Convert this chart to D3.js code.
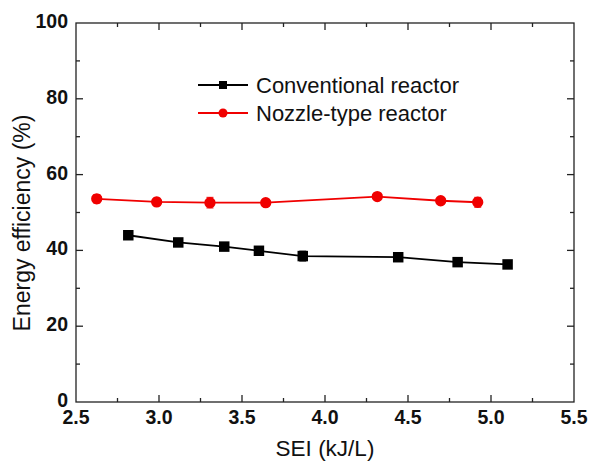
<!DOCTYPE html>
<html>
<head>
<meta charset="utf-8">
<script src="https://cdn.jsdelivr.net/npm/d3@7"></script>
<style>
  html, body { margin: 0; padding: 0; background: #fff; }
  svg { display: block; }
  text { font-family: "Liberation Sans", Arial, sans-serif; }
</style>
</head>
<body>
<svg id="chart" width="590" height="461"></svg>
<script>
// Conventional reactor
const convSEI = [2.815, 3.116, 3.393, 3.602, 3.866, 4.441, 4.799, 5.10];
const convEff = [44.0, 42.1, 41.0, 39.9, 38.5, 38.2, 36.9, 36.3];
const convErr = [0.5, 0.5, 0.5, 0.5, 1.3, 0.5, 0.8, 0.5];
// Nozzle-type reactor
const nozSEI = [2.625, 2.986, 3.307, 3.643, 4.315, 4.697, 4.920];
const nozEff = [53.6, 52.8, 52.6, 52.6, 54.2, 53.1, 52.7];
const nozErr = [1.1, 1.0, 1.4, 0.9, 0.6, 0.6, 1.3];

const xTicks = [2.5, 3.0, 3.5, 4.0, 4.5, 5.0, 5.5];
const yTicks = [0, 20, 40, 60, 80, 100];
const seriesNames = ["Conventional reactor", "Nozzle-type reactor"];

const svg = d3.select("#chart");
const L = 76, R = 574, T = 23, B = 402;

const x = d3.scaleLinear().domain([2.5, 5.5]).range([L, R]);
const y = d3.scaleLinear().domain([0, 100]).range([B, T]);

const axisColor = "#222";

// frame
svg.append("rect").attr("x", L).attr("y", T).attr("width", R - L).attr("height", B - T)
  .attr("fill", "none").attr("stroke", axisColor).attr("stroke-width", 1.3);

// major / minor ticks, inward on all four sides
const xMinor = d3.range(2.75, 5.5, 0.5);
const yMinor = d3.range(10, 100, 20);
function ticks(vals, len) {
  vals.forEach(v => {
    svg.append("line").attr("x1", x(v)).attr("x2", x(v)).attr("y1", B).attr("y2", B - len)
      .attr("stroke", axisColor).attr("stroke-width", 1.3);
    svg.append("line").attr("x1", x(v)).attr("x2", x(v)).attr("y1", T).attr("y2", T + len)
      .attr("stroke", axisColor).attr("stroke-width", 1.3);
  });
}
function yticks(vals, len) {
  vals.forEach(v => {
    svg.append("line").attr("x1", L).attr("x2", L + len).attr("y1", y(v)).attr("y2", y(v))
      .attr("stroke", axisColor).attr("stroke-width", 1.3);
    svg.append("line").attr("x1", R).attr("x2", R - len).attr("y1", y(v)).attr("y2", y(v))
      .attr("stroke", axisColor).attr("stroke-width", 1.3);
  });
}
ticks(xTicks.slice(1, -1), 7);
ticks(xMinor, 4);
yticks(yTicks.slice(1, -1), 7);
yticks(yMinor, 4);

// tick labels
svg.append("g").selectAll("text").data(xTicks).join("text")
  .attr("x", d => x(d)).attr("y", 424)
  .attr("text-anchor", "middle").attr("font-size", 19.5).attr("font-weight", "bold")
  .attr("fill", "#111").text(d => d.toFixed(1));
svg.append("g").selectAll("text").data(yTicks).join("text")
  .attr("x", 68).attr("y", d => y(d) + 5)
  .attr("text-anchor", "end").attr("font-size", 19.5).attr("font-weight", "bold")
  .attr("fill", "#111").text(d => d);

// axis titles
svg.append("text").attr("x", x(4.0)).attr("y", 456).attr("text-anchor", "middle")
  .attr("font-size", 22.5).attr("fill", "#111").text("SEI (kJ/L)");
svg.append("text").attr("transform", `translate(30,223) rotate(-90)`)
  .attr("text-anchor", "middle").attr("font-size", 23).attr("fill", "#111")
  .text("Energy efficiency (%)");

const line = d3.line().x(d => x(d[0])).y(d => y(d[1]));

function drawSeries(xs, ys, es, color, shape) {
  const pts = xs.map((v, i) => [v, ys[i], es[i]]);
  const g = svg.append("g");
  g.append("path").datum(pts).attr("d", line).attr("fill", "none")
    .attr("stroke", color).attr("stroke-width", 1.8);
  pts.forEach(p => {
    const cx = x(p[0]), top = y(p[1] + p[2]), bot = y(p[1] - p[2]);
    g.append("line").attr("x1", cx).attr("x2", cx).attr("y1", top).attr("y2", bot)
      .attr("stroke", color).attr("stroke-width", 1);
    [top, bot].forEach(yy => g.append("line").attr("x1", cx - 3.5).attr("x2", cx + 3.5)
      .attr("y1", yy).attr("y2", yy).attr("stroke", color).attr("stroke-width", 1));
  });
  g.selectAll("path.m").data(pts).join("path").attr("class", "m")
    .attr("transform", d => `translate(${x(d[0])},${y(d[1])})`)
    .attr("d", d3.symbol().type(shape).size(shape === d3.symbolSquare ? 110 : 100))
    .attr("fill", color);
}

drawSeries(convSEI, convEff, convErr, "#000", d3.symbolSquare);
drawSeries(nozSEI, nozEff, nozErr, "#f00000", d3.symbolCircle);

// legend
const legend = [
  { name: seriesNames[0], color: "#000", shape: d3.symbolSquare, yy: 85 },
  { name: seriesNames[1], color: "#f00000", shape: d3.symbolCircle, yy: 113 }
];
legend.forEach(l => {
  svg.append("line").attr("x1", 198).attr("x2", 248).attr("y1", l.yy).attr("y2", l.yy)
    .attr("stroke", l.color).attr("stroke-width", 1.8);
  svg.append("path").attr("transform", `translate(223,${l.yy})`)
    .attr("d", d3.symbol().type(l.shape).size(64))
    .attr("fill", l.color);
  svg.append("text").attr("x", 256).attr("y", l.yy + 8).attr("font-size", 22)
    .attr("fill", "#111").text(l.name);
});
</script>
</body>
</html>
